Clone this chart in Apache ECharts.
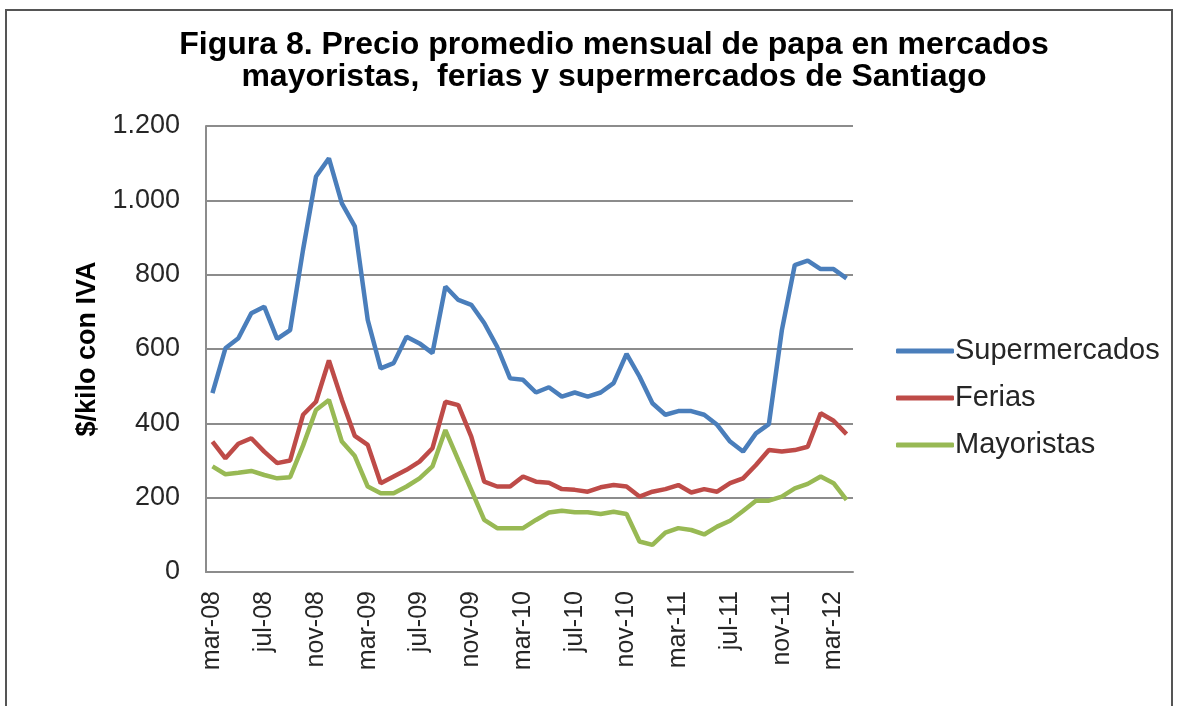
<!DOCTYPE html>
<html>
<head>
<meta charset="utf-8">
<script src="https://cdn.jsdelivr.net/npm/echarts@6/dist/echarts.min.js"></script>
<style>
  html, body { margin: 0; padding: 0; background: #fff; }
  #chart { width: 1180px; height: 706px; }
</style>
</head>
<body>
<div id="chart"></div>
<script>
// meses, mar-08 a abr-12
const months = [
  'mar-08', 'abr-08', 'may-08', 'jun-08', 'jul-08', 'ago-08', 'sep-08', 'oct-08', 'nov-08', 'dic-08',
  'ene-09', 'feb-09', 'mar-09', 'abr-09', 'may-09', 'jun-09', 'jul-09', 'ago-09', 'sep-09', 'oct-09',
  'nov-09', 'dic-09', 'ene-10', 'feb-10', 'mar-10', 'abr-10', 'may-10', 'jun-10', 'jul-10', 'ago-10',
  'sep-10', 'oct-10', 'nov-10', 'dic-10', 'ene-11', 'feb-11', 'mar-11', 'abr-11', 'may-11', 'jun-11',
  'jul-11', 'ago-11', 'sep-11', 'oct-11', 'nov-11', 'dic-11', 'ene-12', 'feb-12', 'mar-12', 'abr-12'
]

// $/kilo con IVA
const supermercados = [
  481, 602, 629, 696, 714, 627, 651, 867, 1064, 1113,
  992, 930, 678, 548, 562, 633, 615, 589, 768, 732,
  719, 670, 606, 521, 517, 483, 497, 472, 483, 472,
  483, 508, 587, 526, 454, 423, 433, 433, 423, 396,
  351, 324, 373, 398, 650, 826, 838, 815, 815, 790
]
const ferias = [
  351, 306, 345, 360, 324, 293, 300, 423, 458, 569,
  463, 366, 342, 239, 257, 275, 297, 333, 458, 449,
  364, 243, 230, 230, 257, 243, 240, 223, 221, 216,
  228, 234, 230, 203, 216, 223, 234, 214, 223, 216,
  239, 252, 288, 328, 324, 328, 337, 427, 407, 371
]
const mayoristas = [
  284, 263, 267, 272, 261, 252, 255, 340, 436, 463,
  351, 312, 230, 212, 212, 230, 252, 284, 382, 301,
  221, 140, 118, 118, 118, 140, 160, 165, 161, 161,
  156, 162, 156, 82, 73, 106, 118, 113, 101, 122,
  138, 164, 192, 192, 203, 225, 237, 257, 239, 194
]

const font = 'Liberation Sans, Arial, sans-serif'

const chart = echarts.init(document.getElementById('chart'))

const line = (name, data, color) => ({
  name,
  type: 'line',
  data,
  symbol: 'none',
  lineStyle: { color, width: 4.5 },
  itemStyle: { color },
})

chart.setOption({
  animation: false,
  backgroundColor: '#fff',
  textStyle: { fontFamily: font },
  title: {
    text: 'Figura 8. Precio promedio mensual de papa en mercados\nmayoristas,  ferias y supermercados de Santiago',
    left: 609,
    top: 24,
    textAlign: 'center',
    textStyle: {
      fontFamily: font,
      fontSize: 32,
      fontWeight: 'bold',
      color: '#000',
      lineHeight: 32,
    },
  },
  legend: {
    orient: 'vertical',
    left: 891,
    top: 331,
    icon: 'roundRect',
    itemWidth: 58,
    itemHeight: 5,
    itemGap: 17,
    textStyle: { fontFamily: font, fontSize: 29, color: '#262626', lineHeight: 30, padding: [0, 0, 0, -4] },
    data: ['Supermercados', 'Ferias', 'Mayoristas'],
  },
  grid: { left: 206, top: 126, width: 647, height: 446 },
  xAxis: {
    type: 'category',
    data: months,
    boundaryGap: true,
    axisLine: { lineStyle: { color: '#8c8c8c', width: 2 } },
    axisTick: { show: false },
    axisLabel: {
      interval: 3,
      rotate: 90,
      margin: 19,
      fontFamily: font,
      fontSize: 25,
      color: '#262626',
    },
  },
  yAxis: {
    type: 'value',
    min: 0,
    max: 1200,
    interval: 200,
    name: '$/kilo con IVA',
    nameLocation: 'middle',
    nameRotate: 90,
    nameGap: 105,
    nameTextStyle: { fontFamily: font, fontSize: 27, fontWeight: 'bold', color: '#000' },
    axisLine: { show: true, lineStyle: { color: '#8c8c8c', width: 2 } },
    axisTick: { show: false },
    splitLine: { lineStyle: { color: '#8c8c8c', width: 2 } },
    axisLabel: {
      margin: 26,
      fontFamily: font,
      fontSize: 27,
      color: '#262626',
      formatter: v => String(v).replace(/\B(?=(\d{3})+(?!\d))/g, '.'),
    },
  },
  series: [
    line('Supermercados', supermercados, '#4a7ebb'),
    line('Ferias', ferias, '#be4b48'),
    line('Mayoristas', mayoristas, '#98b954'),
  ],
  graphic: [
    {
      type: 'rect',
      shape: { x: 6, y: 10, width: 1166, height: 720 },
      style: { fill: 'none', stroke: '#555', lineWidth: 2 },
      silent: true,
    },
  ],
})
</script>
</body>
</html>
